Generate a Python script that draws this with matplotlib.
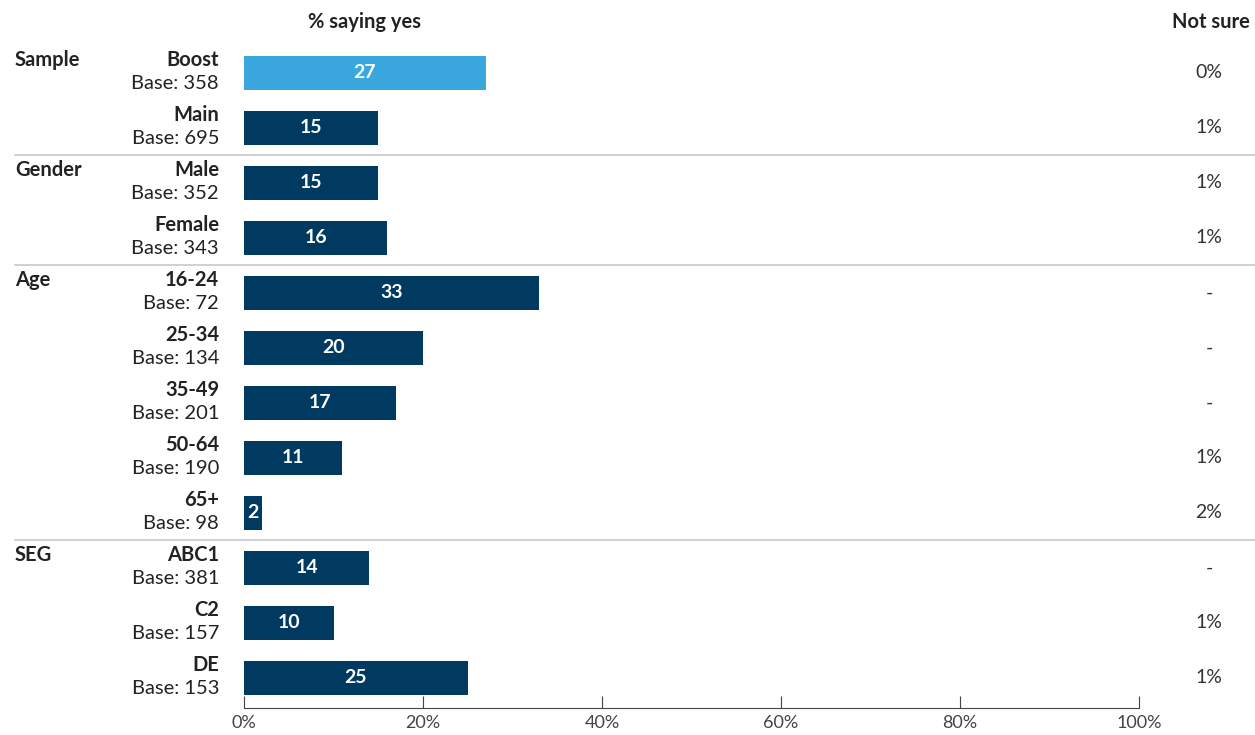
import matplotlib
matplotlib.use("Agg")
import matplotlib.pyplot as plt
import matplotlib.transforms as mtransforms

plt.rcParams['font.family'] = ['Lato', 'DejaVu Sans']

groups = ['Sample', 'Gender', 'Age', 'SEG']
group_start = [0, 2, 4, 9]
categories = ['Boost', 'Main', 'Male', 'Female', '16-24', '25-34', '35-49',
              '50-64', '65+', 'ABC1', 'C2', 'DE']
bases = [358, 695, 352, 343, 72, 134, 201, 190, 98, 381, 157, 153]
yes_pct = [27, 15, 15, 16, 33, 20, 17, 11, 2, 14, 10, 25]
not_sure = ['0%', '1%', '1%', '1%', '-', '-', '-', '1%', '2%', '-', '1%', '1%']

light = '#3BA7DF'
dark = '#003A60'
txt = '#222222'

W, H = 1255, 735
fig = plt.figure(figsize=(W / 100, H / 100), dpi=100)
ax = fig.add_axes([244 / W, 1 - 708 / H, 895 / W, 668 / H])

ypos = list(range(len(categories)))
colors = [light] + [dark] * (len(categories) - 1)
bars = ax.barh(ypos, yes_pct, height=0.62, color=colors)
for b, v in zip(bars, yes_pct):
    ax.text(b.get_width() / 2, b.get_y() + b.get_height() / 2, str(v),
            ha='center', va='center', color='white', fontsize=14, fontweight='bold')

ax.set_xlim(0, 100)
ax.set_ylim(11.55, -0.6)
ax.set_xticks([0, 20, 40, 60, 80, 100])
ax.set_xticklabels(['0%', '20%', '40%', '60%', '80%', '100%'], color='#444444', fontsize=13)
ax.tick_params(axis='x', direction='in', length=9, color='#444444', pad=5)
ax.set_yticks([])
for s in ['top', 'right', 'left']:
    ax.spines[s].set_visible(False)
ax.spines['bottom'].set_color('#444444')

tr = mtransforms.blended_transform_factory(fig.transFigure, ax.transData)

for i, (c, b) in enumerate(zip(categories, bases)):
    ax.text(219 / W, i - 0.24, c, transform=tr, ha='right', va='center',
            fontsize=14.5, fontweight='bold', color=txt)
    ax.text(219 / W, i + 0.2, f'Base: {b}', transform=tr, ha='right', va='center',
            fontsize=14.5, color=txt)
    ax.text(1209 / W, i, not_sure[i], transform=tr, ha='center', va='center',
            fontsize=14, color='#333333')

for g, s in zip(groups, group_start):
    ax.text(15 / W, s - 0.24, g, transform=tr, ha='left', va='center',
            fontsize=14.5, fontweight='bold', color=txt)
    if s > 0:
        ax.plot([15 / W, 1], [s - 0.5, s - 0.5], transform=tr, color='#c8c8c8',
                lw=1.2, clip_on=False)

fig.text(365 / W, 1 - 22 / H, '% saying yes', ha='center', va='center',
         fontsize=14.5, fontweight='bold', color=txt)
fig.text(1250 / W, 1 - 22 / H, 'Not sure', ha='right', va='center',
         fontsize=14.5, fontweight='bold', color=txt)

fig.savefig('out.png', dpi=100, facecolor='white')
